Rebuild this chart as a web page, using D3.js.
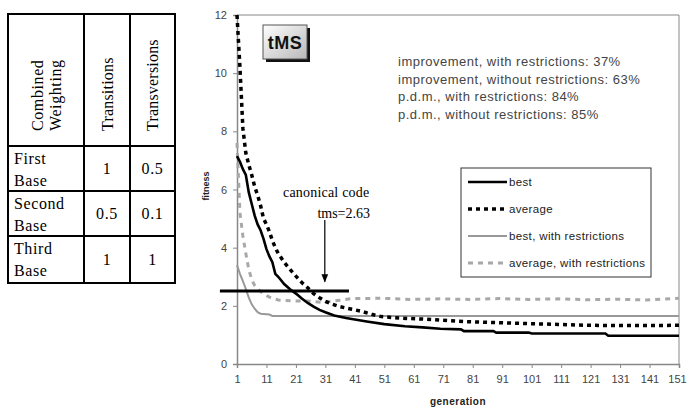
<!DOCTYPE html>
<html>
<head>
<meta charset="utf-8">
<script src="https://cdn.jsdelivr.net/npm/d3@7"></script>
<style>
  body { margin: 0; background: #fff; }
  svg { display: block; }
</style>
</head>
<body>
<div id="chart"></div>
<script>
// table
const tableHeaders = [['Combined', 'Weighting'], ['Transitions'], ['Transversions']];
const tableRows = [
  ['First', 'Base', '1', '0.5'],
  ['Second', 'Base', '0.5', '0.1'],
  ['Third', 'Base', '1', '1']
];

// series, as [generation, fitness]
const best = [[1, 7.15], [2, 6.95], [3, 6.7], [4, 6.5], [5, 5.9], [6, 5.5], [7, 5.1], [8, 4.8], [9, 4.6], [10, 4.3],
  [11, 3.95], [12, 3.7], [13, 3.5], [14, 3.1], [15, 3.0], [17, 2.75], [19, 2.57], [21, 2.42], [23, 2.25],
  [25, 2.1], [27, 1.97], [29, 1.86], [31, 1.78], [34, 1.67], [38, 1.58], [45, 1.46], [51, 1.37], [58, 1.3],
  [64, 1.26], [70, 1.21], [77, 1.19], [78, 1.13], [88, 1.13], [89, 1.08], [100, 1.08], [101, 1.05], [126, 1.05],
  [127, 0.97], [151, 0.97]];
const average = [[1, 12], [2, 10.2], [3, 8.1], [4, 7.25], [5, 6.85], [6, 6.5], [7, 6.1], [8, 5.8], [9, 5.45],
  [10, 5.0], [11, 4.8], [12, 4.55], [13, 4.25], [14, 4.0], [15, 3.8], [17, 3.5], [19, 3.25], [21, 3.02], [23, 2.8],
  [25, 2.62], [27, 2.42], [29, 2.28], [31, 2.15], [33, 2.07], [36, 1.97], [40, 1.88], [43, 1.82], [47, 1.7],
  [50, 1.63], [56, 1.58], [63, 1.55], [70, 1.51], [78, 1.46], [90, 1.42], [100, 1.39], [110, 1.36], [120, 1.33],
  [135, 1.32], [151, 1.33]];
const bestRestricted = [[1, 3.4], [2, 3.1], [3, 2.85], [4, 2.58], [5, 2.28], [6, 2.05], [7, 1.9], [8, 1.78],
  [9, 1.73], [12, 1.7], [13, 1.65], [151, 1.65]];
const averageRestricted = [[1, 7.6], [2, 5.2], [3, 4.4], [4, 3.8], [5, 3.25], [6, 2.9], [7, 2.7], [8, 2.58],
  [9, 2.5], [10, 2.42], [12, 2.3], [15, 2.2], [20, 2.17], [25, 2.17], [30, 2.12], [35, 2.18], [40, 2.25],
  [50, 2.26], [60, 2.22], [70, 2.24], [80, 2.22], [90, 2.25], [100, 2.22], [110, 2.24], [120, 2.21], [130, 2.23],
  [140, 2.2], [151, 2.26]];

const seriesNames = ['best', 'average', 'best, with restrictions', 'average, with restrictions'];
const notes = [
  'improvement, with restrictions: 37%',
  'improvement, without restrictions: 63%',
  'p.d.m., with restrictions: 84%',
  'p.d.m., without restrictions: 85%'
];
const yTicks = [0, 2, 4, 6, 8, 10, 12];
const xTicks = d3.range(1, 152, 10);
const canonicalValue = 2.51;
const canonicalSpan = [-4.8, 39];
const arrowGen = 30.8;
const arrowFrom = 4.95;
const arrowTo = 2.83;

const width = 687, height = 407;
const svg = d3.select('#chart').append('svg')
  .attr('width', width)
  .attr('height', height);

svg.append('defs').append('marker')
  .attr('id', 'arrow')
  .attr('viewBox', '0 0 10 10')
  .attr('refX', 9).attr('refY', 5)
  .attr('markerWidth', 7).attr('markerHeight', 7)
  .attr('orient', 'auto')
  .append('path')
  .attr('d', 'M0,1 L10,5 L0,9 Z')
  .attr('fill', '#000');

// ---- table
const serif = 'Liberation Serif, Times New Roman, serif';
const sans = 'Liberation Sans, Arial, sans-serif';
const tbl = svg.append('g').attr('class', 'table');
const colX = [8, 84, 130, 175];
const rowY = [14, 146, 191, 236, 283];

tbl.append('rect')
  .attr('x', colX[0]).attr('y', rowY[0])
  .attr('width', colX[3] - colX[0]).attr('height', rowY[4] - rowY[0])
  .attr('fill', 'none').attr('stroke', '#000').attr('stroke-width', 2);
colX.slice(1, 3).forEach(cx => {
  tbl.append('line').attr('x1', cx).attr('x2', cx).attr('y1', rowY[0]).attr('y2', rowY[4])
    .attr('stroke', '#000').attr('stroke-width', 2);
});
rowY.slice(1, 4).forEach(ry => {
  tbl.append('line').attr('x1', colX[0]).attr('x2', colX[3]).attr('y1', ry).attr('y2', ry)
    .attr('stroke', '#000').attr('stroke-width', 2);
});

const headerCenters = [[38, 56], [108], [153]];
tableHeaders.forEach((lines, i) => {
  lines.forEach((t, j) => {
    tbl.append('text')
      .attr('transform', `translate(${headerCenters[i][j] + 5},${131}) rotate(-90)`)
      .attr('font-family', serif)
      .attr('font-size', 16)
      .attr('letter-spacing', i === 0 ? 0.6 : 0.2)
      .text(t);
  });
});

tableRows.forEach((r, i) => {
  const top = rowY[i + 1];
  const mid = (top + rowY[i + 2]) / 2;
  const cell = (tx, ty, t, anchor) => tbl.append('text')
    .attr('x', tx).attr('y', ty).attr('text-anchor', anchor)
    .attr('font-family', serif).attr('font-size', 16).attr('letter-spacing', 0.6)
    .text(t);
  cell(14, top + 18, r[0], 'start');
  cell(14, top + 40, r[1], 'start');
  cell((colX[1] + colX[2]) / 2, mid + 5, r[2], 'middle');
  cell((colX[2] + colX[3]) / 2, mid + 5, r[3], 'middle');
});

// ---- chart
const x = d3.scaleLinear().domain([1, 151]).range([237, 679]);
const y = d3.scaleLinear().domain([0, 12]).range([364, 15]);

// plot frame (top, right)
svg.append('path')
  .attr('d', `M${x(1)},${y(12)} H${x(151)} V${y(0)}`)
  .attr('fill', 'none').attr('stroke', '#888').attr('stroke-width', 1);

const yAxis = svg.append('g')
  .attr('transform', `translate(${x(1)},0)`)
  .call(d3.axisLeft(y).tickValues(yTicks).tickSize(4).tickPadding(6));
const xAxis = svg.append('g')
  .attr('transform', `translate(0,${y(0)})`)
  .call(d3.axisBottom(x).tickValues(xTicks).tickSize(4).tickPadding(7));
[yAxis, xAxis].forEach(a => {
  a.select('.domain').attr('stroke', '#888').attr('stroke-width', 1.5);
  a.selectAll('.tick line').attr('stroke', '#888');
  a.selectAll('.tick text').attr('font-family', sans).attr('font-size', 11).attr('fill', '#444');
});
xAxis.selectAll('.tick text').filter(d => d === 151).attr('dx', -2);

svg.append('text')
  .attr('transform', `translate(${209},${186}) rotate(-90)`)
  .attr('text-anchor', 'middle')
  .attr('font-family', sans).attr('font-size', 9).attr('font-weight', 'bold').attr('fill', '#222')
  .text('fitness');
svg.append('text')
  .attr('x', 458).attr('y', 405)
  .attr('text-anchor', 'middle')
  .attr('font-family', sans).attr('font-size', 10).attr('font-weight', 'bold').attr('fill', '#222')
  .attr('letter-spacing', 0.5)
  .text('generation');

const line = d3.line().x(d => x(d[0])).y(d => y(d[1]));
const styles = [
  { data: best, stroke: '#000', width: 2.6, dash: null },
  { data: average, stroke: '#000', width: 3.5, dash: '4,4' },
  { data: bestRestricted, stroke: '#999', width: 2, dash: null },
  { data: averageRestricted, stroke: '#a8a8a8', width: 3, dash: '5,5' }
];

svg.append('g').selectAll('path')
  .data(styles.slice().reverse())
  .enter()
  .append('path')
  .attr('d', d => line(d.data))
  .attr('fill', 'none')
  .attr('stroke', d => d.stroke)
  .attr('stroke-width', d => d.width)
  .attr('stroke-dasharray', d => d.dash);

// canonical code marker
svg.append('line')
  .attr('x1', x(canonicalSpan[0])).attr('x2', x(canonicalSpan[1]))
  .attr('y1', y(canonicalValue)).attr('y2', y(canonicalValue))
  .attr('stroke', '#000').attr('stroke-width', 3);
svg.append('line')
  .attr('x1', x(arrowGen)).attr('x2', x(arrowGen))
  .attr('y1', y(arrowFrom)).attr('y2', y(arrowTo))
  .attr('stroke', '#000').attr('stroke-width', 1.2)
  .attr('marker-end', 'url(#arrow)');
svg.append('text')
  .attr('x', 283).attr('y', 197)
  .attr('font-family', serif).attr('font-size', 14).attr('letter-spacing', 0.2)
  .text('canonical code');
svg.append('text')
  .attr('x', 370).attr('y', 218).attr('text-anchor', 'end')
  .attr('font-family', serif).attr('font-size', 14)
  .text('tms=' + '2.63');

// tMS badge
const grad = svg.select('defs').append('linearGradient')
  .attr('id', 'badge').attr('x1', 0).attr('y1', 0).attr('x2', 1).attr('y2', 1);
grad.append('stop').attr('offset', '0%').attr('stop-color', '#fff');
grad.append('stop').attr('offset', '100%').attr('stop-color', '#b8b8b8');
svg.append('rect')
  .attr('x', 266).attr('y', 28).attr('width', 44).attr('height', 34)
  .attr('fill', '#111');
svg.append('rect')
  .attr('x', 263).attr('y', 25).attr('width', 44).attr('height', 34)
  .attr('fill', 'url(#badge)').attr('stroke', '#555').attr('stroke-width', 1);
svg.append('text')
  .attr('x', 285).attr('y', 48.5).attr('text-anchor', 'middle')
  .attr('font-family', sans).attr('font-size', 18).attr('font-weight', 'bold').attr('fill', '#111')
  .attr('letter-spacing', 0.5)
  .text('tMS');

// notes
svg.append('g').selectAll('text')
  .data(notes)
  .enter()
  .append('text')
  .attr('x', 398)
  .attr('y', (d, i) => 66 + i * 17.5)
  .attr('font-family', sans).attr('font-size', 13).attr('fill', '#444')
  .attr('letter-spacing', 0.5)
  .text(d => d);

// legend
const lg = svg.append('g');
lg.append('rect')
  .attr('x', 461).attr('y', 168).attr('width', 190).attr('height', 109)
  .attr('fill', '#fff').attr('stroke', '#333').attr('stroke-width', 1);
const legendItem = lg.selectAll('g.item')
  .data(styles)
  .enter()
  .append('g')
  .attr('class', 'item')
  .attr('transform', (d, i) => `translate(0,${182 + i * 27})`);
legendItem.append('line')
  .attr('x1', 468).attr('x2', 507)
  .attr('stroke', d => d.stroke)
  .attr('stroke-width', d => d.width)
  .attr('stroke-dasharray', d => d.dash);
legendItem.append('text')
  .attr('x', 509).attr('y', 4)
  .attr('font-family', sans).attr('font-size', 11.5).attr('fill', '#222')
  .attr('letter-spacing', 0.35)
  .text((d, i) => seriesNames[i]);
</script>
</body>
</html>
